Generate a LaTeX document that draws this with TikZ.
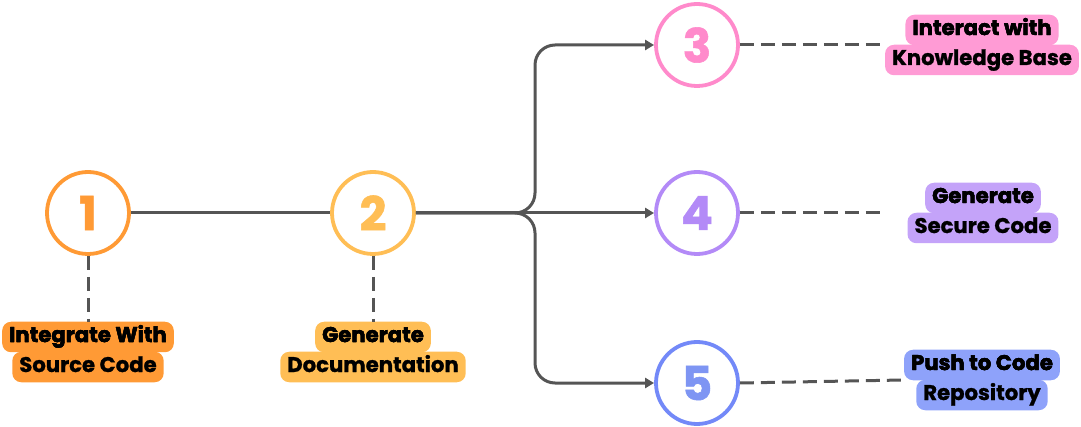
\documentclass[tikz,border=0pt]{standalone}
\usepackage{fontspec}
\setmainfont{Poppins}
\newfontfamily\heavyfont{Poppins}[UprightFont=* Bold,FakeBold=1.2]
\usetikzlibrary{arrows.meta}
\definecolor{lineg}{HTML}{555555}
\definecolor{cA}{HTML}{FF9A35}
\definecolor{cB}{HTML}{FFBE55}
\definecolor{cC}{HTML}{FF8ACB}
\definecolor{cD}{HTML}{B38AF7}
\definecolor{cE}{HTML}{7389F8}
\definecolor{tE}{HTML}{7E95F3}
\definecolor{bC}{HTML}{FF9BD5}
\definecolor{bD}{HTML}{C4A3F9}
\definecolor{bE}{HTML}{8EA2FA}
\tikzset{
  numc/.style={circle,draw=#1,line width=3.8pt,fill=white,minimum size=82pt,inner sep=0pt,
    font=\heavyfont\fontsize{47}{47}\selectfont},
  labfont/.style={font=\heavyfont\fontsize{21.2}{22}\selectfont,text height=15pt,text depth=5pt,text=black},
  lab/.style={labfont,fill=#1,rounded corners=9pt,inner xsep=7pt,inner ysep=0pt,minimum height=30.5pt},
  conn/.style={draw=lineg,line width=3pt},
  dsh/.style={draw=lineg,line width=3pt,dash pattern=on 14pt off 7pt},
  arr/.style={-{Triangle[length=9pt,width=10pt]}}
}
\begin{document}
\begin{tikzpicture}[x=1pt,y=-1pt]
\useasboundingbox (0,0) rectangle (1081,427);
% circles
\node[numc=cA,text=cA] (c1) at (88,213) {1};
\node[numc=cB,text=cB] (c2) at (373,213) {2};
\node[numc=cC,text=cC] (c3) at (697,45) {3};
\node[numc=cD,text=cD] (c4) at (697,213) {4};
\node[numc=cE,text=tE] (c5) at (697,383) {5};
% labels
\node[lab=cA] (l1a) at (88,337) {Integrate With};
\node[lab=cA] (l1b) at (88,367) {Source Code};
\node[lab=cB] (l2a) at (373,337) {Generate};
\node[lab=cB] (l2b) at (373,367) {Documentation};
\node[lab=bC] (l3a) at (982,30) {Interact with};
\node[lab=bC] (l3b) at (982,60) {Knowledge Base};
\node[lab=bD] (l4a) at (983,198) {Generate};
\node[lab=bD] (l4b) at (983,228) {Secure Code};
\node[lab=bE] (l5a) at (982,365) {Push to Code};
\node[lab=bE] (l5b) at (982,395) {Repository};
% text on top again
\node[labfont] at (l1a) {Integrate With};
\node[labfont] at (l2a) {Generate};
\node[labfont] at (l3a) {Interact with};
\node[labfont] at (l4a) {Generate};
\node[labfont] at (l5a) {Push to Code};
% connectors
\draw[conn] (c1) -- (c2);
\coordinate (br) at (535,213);
\draw[conn,arr,rounded corners=20pt] (c2.east) -- (br) |- (c3.west);
\draw[conn,arr] (c2.east) -- (c4.west);
\draw[conn,arr,rounded corners=20pt] (c2.east) -- (br) |- (c5.west);
% dashed
\draw[dsh] (c1.south) -- (l1a.north);
\draw[dsh] (c2.south) -- (l2a.north);
\draw[dsh] (c3.east) -- (l3b.west |- c3.east);
\coordinate (d4) at (885,213);
\draw[dsh] (c4.east) -- (d4);
\coordinate (d5) at (903,380);
\draw[dsh] (c5.east) -- (d5);
\end{tikzpicture}
\end{document}
